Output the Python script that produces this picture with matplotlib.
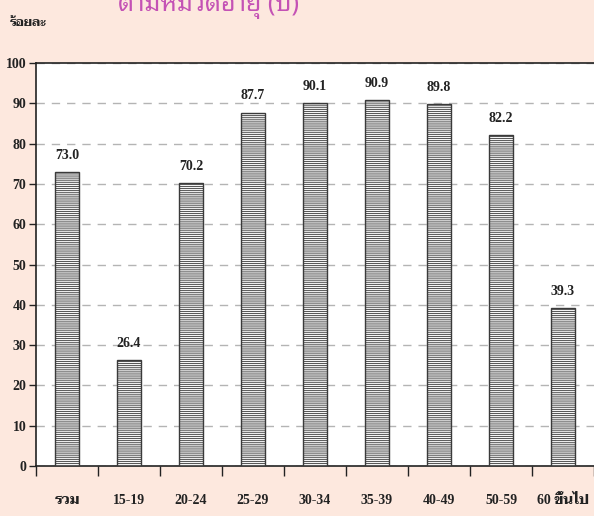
import matplotlib
matplotlib.use('Agg')
import matplotlib.pyplot as plt

# categories and values (ร้อยละ)
categories = ['รวม', '15-19', '20-24', '25-29', '30-34', '35-39', '40-49', '50-59', '60 ขึ้นไป']
values = [73.0, 26.4, 70.2, 87.7, 90.1, 90.9, 89.8, 82.2, 39.3]
yticks = list(range(0, 101, 10))

serif = ['Liberation Serif', 'Taviraj', 'Noto Serif Thai', 'DejaVu Sans']
plt.rcParams['font.family'] = serif
plt.rcParams['hatch.color'] = '#aaaaaa'
plt.rcParams['hatch.linewidth'] = 0.6

bg = '#fde8de'
ink = '#222222'
fig = plt.figure(figsize=(5.94, 5.16), dpi=100, facecolor=bg)
ax = fig.add_axes([36 / 594, 1 - 466 / 516, 1 - 36 / 594, (466 - 63) / 516])
ax.set_facecolor('white')

x = list(range(len(categories)))
ax.bar(x, values, width=0.4, color='#f4f4f4', edgecolor='#3a3a3a',
       linewidth=1.0, hatch='--------', zorder=3)

for xi, v in zip(x, values):
    ax.text(xi, v + 2.5, f'{v:.1f}', ha='center', va='bottom',
            fontsize=10, fontweight='bold', color=ink)

ax.set_xlim(-0.5, len(categories) - 0.5)
ax.set_ylim(0, 100)
ax.set_yticks(yticks)
ax.set_yticklabels([str(t) for t in yticks], fontsize=10, fontweight='bold')
ax.yaxis.grid(True, linestyle=(0, (6, 5)), color='#b4b4b4', linewidth=1.0, zorder=0)
ax.tick_params(axis='y', length=5, width=1.0, pad=2, colors=ink)

# ticks between categories, labels centred under bars
ax.set_xticks([i - 0.5 for i in x] + [len(x) - 0.5])
ax.set_xticklabels([])
ax.tick_params(axis='x', length=7, width=1.0, colors=ink)
for xi, c in zip(x, categories):
    ax.text(xi, -8.5, c, ha='center', va='center', fontsize=10, fontweight='bold',
            color=ink, clip_on=False)

for s in ['left', 'top', 'bottom']:
    ax.spines[s].set_color(ink)
    ax.spines[s].set_linewidth(1.2)
ax.spines['right'].set_visible(False)

fig.text(10 / 594, 1 - 23 / 516, 'ร้อยละ', fontsize=9, fontweight='bold',
         va='center', ha='left', color=ink)
# title is cut at the top edge in the original
fig.text(208 / 594, 1 - 11 / 516, 'ตามหมวดอายุ (ปี)', fontsize=18,
         family=['Noto Sans Thai Looped', 'DejaVu Sans'],
         ha='center', va='baseline', color='#c452b5')

fig.savefig('out.png', dpi=100, facecolor=bg)
